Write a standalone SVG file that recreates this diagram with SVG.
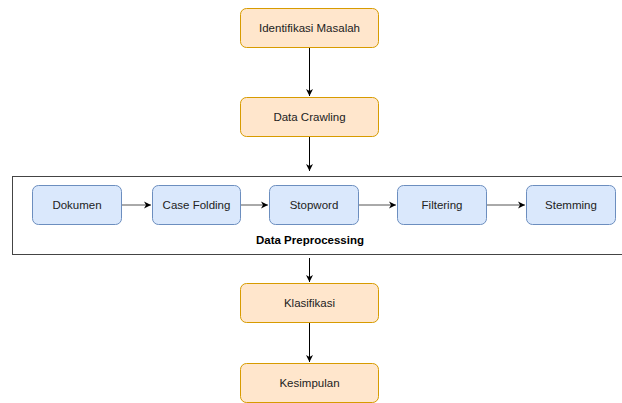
<svg xmlns="http://www.w3.org/2000/svg" width="622" height="403" viewBox="0 0 622 403">
<style>
.o{fill:#ffe6cc;stroke:#d79b00;stroke-width:1}
.b{fill:#dae8fc;stroke:#6c8ebf;stroke-width:1}
.t{font-family:"Liberation Sans",Arial,sans-serif;font-size:11.5px;fill:#222;text-anchor:middle;dominant-baseline:central}
.e{stroke:#000;stroke-width:1;fill:none}
.eg{stroke:#555;stroke-width:1;fill:none}
</style>
<defs>
<marker id="a" markerWidth="8" markerHeight="8" refX="7" refY="4" orient="auto" markerUnits="userSpaceOnUse">
<path d="M0,0.5 L7,4 L0,7.5 L2,4 Z" fill="#000"/>
</marker>
</defs>
<rect width="622" height="403" fill="#fff"/>
<g id="container">
<rect x="12.5" y="176.5" width="620" height="78" fill="#fff" stroke="#444" stroke-width="1"/>
<text x="310" y="240" class="t" style="font-weight:bold;fill:#000">Data Preprocessing</text>
</g>
<g id="n1"><rect class="o" x="240.5" y="8.5" width="138" height="39" rx="6"/><text class="t" x="309.5" y="28">Identifikasi Masalah</text></g>
<g id="n2"><rect class="o" x="240.5" y="97.5" width="138" height="39" rx="6"/><text class="t" x="309.5" y="117">Data Crawling</text></g>
<g id="n3"><rect class="b" x="32.5" y="185.5" width="89" height="39" rx="6"/><text class="t" x="77" y="205">Dokumen</text></g>
<g id="n4"><rect class="b" x="152.5" y="185.5" width="88" height="39" rx="6"/><text class="t" x="196.5" y="205">Case Folding</text></g>
<g id="n5"><rect class="b" x="269.5" y="185.5" width="89" height="39" rx="6"/><text class="t" x="314" y="205">Stopword</text></g>
<g id="n6"><rect class="b" x="397.5" y="185.5" width="89" height="39" rx="6"/><text class="t" x="442" y="205">Filtering</text></g>
<g id="n7"><rect class="b" x="526.5" y="185.5" width="89" height="39" rx="6"/><text class="t" x="571" y="205">Stemming</text></g>
<g id="n8"><rect class="o" x="240.5" y="283.5" width="138" height="39" rx="6"/><text class="t" x="309.5" y="303">Klasifikasi</text></g>
<g id="n9"><rect class="o" x="240.5" y="363.5" width="138" height="39" rx="6"/><text class="t" x="309.5" y="383">Kesimpulan</text></g>
<g id="connectors">
<line class="e" x1="309.5" y1="48" x2="309.5" y2="96" marker-end="url(#a)"/>
<line class="e" x1="309.5" y1="137" x2="309.5" y2="171" marker-end="url(#a)"/>
<line class="eg" x1="122" y1="205" x2="151" y2="205" marker-end="url(#a)"/>
<line class="eg" x1="241" y1="205" x2="268" y2="205" marker-end="url(#a)"/>
<line class="eg" x1="359" y1="205" x2="396" y2="205" marker-end="url(#a)"/>
<line class="eg" x1="487" y1="205" x2="525" y2="205" marker-end="url(#a)"/>
<line class="e" x1="309.5" y1="258" x2="309.5" y2="282" marker-end="url(#a)"/>
<line class="e" x1="309.5" y1="323" x2="309.5" y2="362" marker-end="url(#a)"/>
</g>
</svg>
